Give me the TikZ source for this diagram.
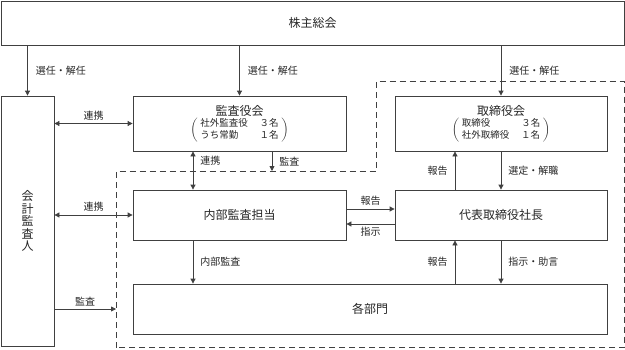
\documentclass[tikz,border=0pt]{standalone}
\usepackage{fontspec}
\setmainfont{Noto Sans CJK JP}
\usetikzlibrary{positioning, calc, arrows.meta}
\tikzset{
  % Organisation chart
  orgbox/.style   = { draw=black!75, line width=0.8pt, inner sep=0, align=center,
                       font=\fontsize{12}{14}\selectfont, text=black!85 },
  flow/.style     = { draw=black!75, line width=0.8pt, -{Triangle[length=5pt,width=5pt]} },
  twoway/.style   = { draw=black!75, line width=0.8pt,
                       {Triangle[length=5pt,width=5pt]}-{Triangle[length=5pt,width=5pt]} },
  flowlabel/.style= { font=\fontsize{10}{12}\selectfont, text=black!85, inner sep=1pt },
  region/.style   = { draw=black!75, line width=0.8pt, dash pattern=on 6pt off 4pt }
}
\newcommand{\memberlist}[4]{%
  {\fontsize{9.5}{12}\selectfont
   $\left(\;\mbox{\begin{tabular}{@{}l@{\hspace{12pt}}r@{}}#1 & #2\\ #3 & #4\end{tabular}}\;\right)$}}

\begin{document}
\begin{tikzpicture}[x=1pt, y=-1pt]
  \useasboundingbox (0,0) rectangle (625,349);

  % --- boxes ------------------------------------------------------------
  \node[orgbox, minimum width=623pt, minimum height=44pt] (kabu) at (312.5,23) {株主総会};
  \node[orgbox, minimum width=53pt, minimum height=250pt, font=\fontsize{12}{12.6}\selectfont]
    (kaikei) at (27.5,221) {会\\計\\監\\査\\人};
  \node[orgbox, minimum width=213pt, minimum height=55pt] (kansa) at (239.5,123.5)
    {監査役会\\[1pt]\memberlist{社外監査役}{３名}{うち常勤}{１名}};
  \node[orgbox, minimum width=212pt, minimum height=55pt] (torishimari) at (501,123.5)
    {取締役会\\[1pt]\memberlist{取締役}{３名}{社外取締役}{１名}};
  \node[orgbox, minimum width=213pt, minimum height=50pt] (naibu) at (239.5,215) {内部監査担当};
  \node[orgbox, minimum width=212pt, minimum height=50pt] (daihyo) at (501,215) {代表取締役社長};
  \node[orgbox, minimum width=474pt, minimum height=50pt] (kakubu) at (370,309) {各部門};

  % --- dashed region (internal control) ---------------------------------
  \coordinate (regionleft)   at (116,171);
  \coordinate (regioncorner) at (376,171);
  \coordinate (regiontop)    at (376,81);
  \draw[region] (116,347.5) -- (regionleft) -- (regioncorner) -- (regiontop)
    -- (624,81) -- (624,347.5) -- cycle;

  % --- appointment by the shareholders ------------------------------------
  \foreach \n in {kaikei,kansa,torishimari}
    \draw[flow] (\n.north |- kabu.south) -- node[flowlabel, right=7pt]{選任・解任} (\n.north);

  % --- accounting auditor -------------------------------------------------
  \draw[twoway] (kaikei.east |- kansa) -- node[flowlabel, above=2pt]{連携} (kansa.west);
  \draw[twoway] (kaikei.east |- naibu) -- node[flowlabel, above=2pt]{連携} (naibu.west);
  \draw[flow]   (kaikei.east |- kakubu) -- node[flowlabel, above=2pt]{監査} (regionleft |- kakubu);

  % --- audit board ----------------------------------------------------------
  \draw[twoway] ([xshift=-46.5pt]kansa.south) -- node[flowlabel, right=6pt, pos=0.25]{連携}
    ([xshift=-46.5pt]naibu.north);
  \coordinate (kansaaudit) at ([xshift=32.5pt]kansa.south);
  \draw[flow] (kansaaudit) -- node[flowlabel, right=6pt]{監査} (kansaaudit |- regioncorner);

  % --- board and president --------------------------------------------------
  \draw[flow] ([xshift=-46pt]daihyo.north) -- node[flowlabel, left=6pt]{報告}
    ([xshift=-46pt]torishimari.south);
  \draw[flow] (torishimari.south) -- node[flowlabel, right=6pt]{選定・解職} (daihyo.north);

  \draw[flow] ([yshift=6pt]naibu.east) -- node[flowlabel, above=2pt]{報告} ([yshift=6pt]daihyo.west);
  \draw[flow] ([yshift=-9pt]daihyo.west) -- node[flowlabel, below=2pt]{指示} ([yshift=-9pt]naibu.east);

  % --- departments ------------------------------------------------------------
  \draw[flow] ([xshift=-46.5pt]naibu.south) -- node[flowlabel, right=6pt]{内部監査}
    ([xshift=-46.5pt]naibu.south |- kakubu.north);
  \draw[flow] ([xshift=-46pt]daihyo.south |- kakubu.north) -- node[flowlabel, left=6pt]{報告}
    ([xshift=-46pt]daihyo.south);
  \draw[flow] (daihyo.south) -- node[flowlabel, right=6pt]{指示・助言} (daihyo.south |- kakubu.north);

\end{tikzpicture}
\end{document}
